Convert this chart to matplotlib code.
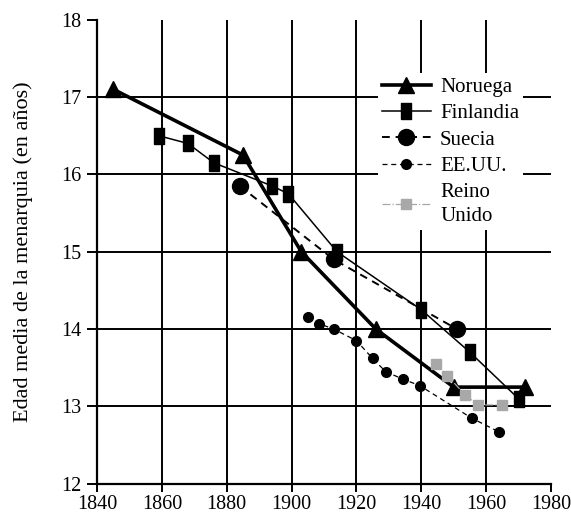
""" edad media de la menarquia, 1840-1980 """
import numpy as np
import matplotlib.pyplot as plt

plt.rcParams['font.family'] = ['Liberation Serif', 'DejaVu Serif']

# series: year, mean age
noruega_x = [1845, 1885, 1903, 1926, 1950, 1972]
noruega_y = [17.1, 16.25, 15.0, 14.0, 13.25, 13.25]

finlandia_x = [1859, 1868, 1876, 1894, 1899, 1914, 1940, 1955, 1970]
finlandia_y = [16.5, 16.4, 16.15, 15.85, 15.75, 15.0, 14.25, 13.7, 13.1]

suecia_x = [1884, 1913, 1951]
suecia_y = [15.85, 14.9, 14.0]

eeuu_x = [1905, 1908.5, 1913, 1920, 1925, 1929, 1934.5, 1939.5, 1955.5, 1964]
eeuu_y = [14.15, 14.07, 14.0, 13.85, 13.62, 13.45, 13.35, 13.27, 12.85, 12.67]

reino_x = [1944.5, 1948, 1953.5, 1957.5, 1965]
reino_y = [13.55, 13.4, 13.15, 13.02, 13.02]

xticks = list(range(1840, 1981, 20))
yticks = list(range(12, 19))

# tall rectangle marker for Finlandia
rect = [(-0.6, -1), (0.6, -1), (0.6, 1), (-0.6, 1), (-0.6, -1)]

fig = plt.figure(figsize=(5.71, 5.18), dpi=100)
ax = fig.add_axes([0.170, 0.066, 0.795, 0.896])

# grid only on inner ticks
for x in xticks[1:-1]:
    ax.axvline(x, color='black', lw=1.4, zorder=0)
for y in yticks[1:-1]:
    ax.axhline(y, color='black', lw=1.4, zorder=0)

ax.plot(noruega_x, noruega_y, '-', color='black', lw=2.6, marker='^', ms=11,
        label='Noruega', zorder=3)
ax.plot(finlandia_x, finlandia_y, '-', color='black', lw=1.1, marker=rect, ms=11,
        label='Finlandia', zorder=3)
ax.plot(suecia_x, suecia_y, '--', color='black', lw=1.4, marker='o', ms=11.5,
        dashes=(4, 3), label='Suecia', zorder=3)
ax.plot(eeuu_x, eeuu_y, '--', color='black', lw=0.9, marker='o', ms=7,
        dashes=(4, 3), label='EE.UU.', zorder=3)
ax.plot(reino_x, reino_y, '-.', color='#a8a8a8', lw=0.9, marker='s', ms=7,
        label='Reino\nUnido', zorder=3)

ax.set_xlim(1840, 1980)
ax.set_ylim(12, 18)
ax.set_xticks(xticks)
ax.set_yticks(yticks)
ax.tick_params(direction='out', length=7, width=1.4, labelsize=14.5,
               colors='black', pad=4)
ax.tick_params(axis='x', length=6, pad=2)
ax.spines['top'].set_visible(False)
ax.spines['right'].set_visible(False)
ax.spines['left'].set_linewidth(1.6)
ax.spines['bottom'].set_linewidth(1.6)
ax.set_ylabel('Edad media de la menarquia (en años)', fontsize=16)
ax.yaxis.set_label_coords(-0.141, 0.5)

leg = ax.legend(loc='upper left', bbox_to_anchor=(0.618, 0.885), numpoints=1,
                frameon=True, fontsize=15, handlelength=2.35, handletextpad=0.45,
                labelspacing=0.33, borderpad=0.2, borderaxespad=0)
leg.get_frame().set_edgecolor('none')
leg.get_frame().set_facecolor('white')
leg.get_frame().set_alpha(1)
leg.set_zorder(5)
leg.get_texts()[-1].set_linespacing(1.35)

fig.savefig('out.png', dpi=100)
